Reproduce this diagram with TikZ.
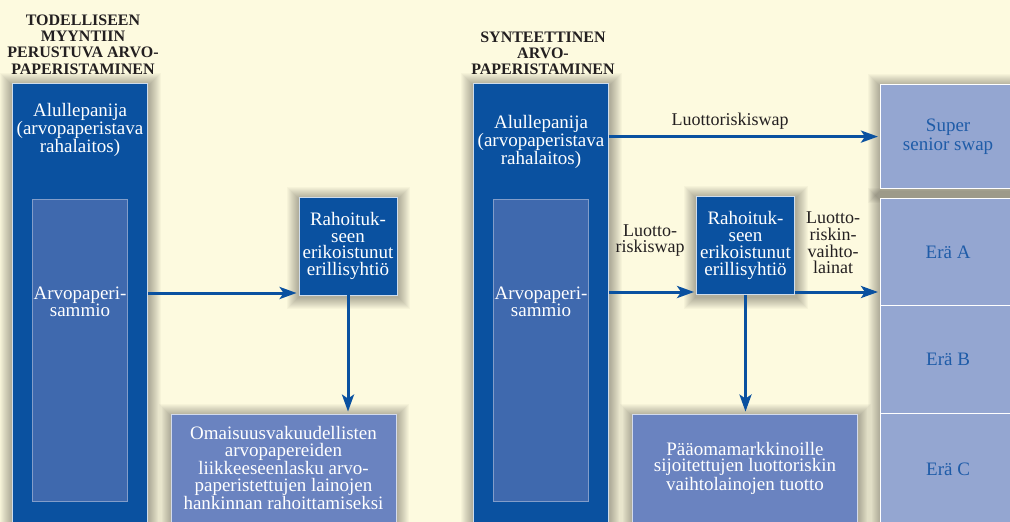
\documentclass[tikz,border=0pt]{standalone}
\usepackage{fontspec}
\setmainfont{Liberation Serif}
\usetikzlibrary{arrows.meta,positioning}

\definecolor{bgcream}{HTML}{FDFADF}
\definecolor{darkblue}{HTML}{0A51A0}
\definecolor{poolblue}{HTML}{3F69AE}
\definecolor{boxblue}{HTML}{6A83C0}
\definecolor{trancheblue}{HTML}{94A6D1}
\definecolor{tranchetext}{HTML}{1F5CA8}
\definecolor{titlegray}{HTML}{231F20}

\pgfdeclarelayer{bg}
\pgfsetlayers{bg,main}

\begin{document}
\begin{tikzpicture}[x=1pt,y=-1pt,
    txt/.style={font=\fontsize{19}{16.8}\selectfont, align=center, inner sep=0pt},
    column/.style={fill=darkblue, draw=white!80!darkblue, line width=0.8pt, anchor=north west, minimum width=135pt, minimum height=450pt, inner sep=0pt},
    pool/.style={fill=poolblue, draw=white!35!poolblue, line width=0.8pt, anchor=north west, minimum width=95pt, minimum height=302pt, inner sep=0pt},
    spv/.style={txt, fill=darkblue, draw=white!80!darkblue, line width=0.8pt, text=white, minimum width=98pt, minimum height=98pt},
    outbox/.style={txt, fill=boxblue, draw=white!70!boxblue, line width=0.8pt, text=white, minimum width=225pt, minimum height=108pt},
    tranche/.style={txt, fill=trancheblue, draw=white, line width=1.2pt, text=tranchetext, minimum width=135pt, anchor=north west},
    flow/.style={darkblue, line width=3pt, -{Stealth[length=17pt,width=12pt,inset=4pt]}, shorten >=2pt},
    flowlbl/.style={align=center, inner sep=0pt, text=titlegray, font=\fontsize{18}{16.7}\selectfont},
    heading/.style={align=center, inner sep=0pt, text=titlegray, font=\bfseries\fontsize{16}{16.3}\selectfont}]

    \useasboundingbox (0,0) rectangle (1010,522);

    % left: true sale
    \node[heading] (head1) at (83,44.5) {TODELLISEEN\\MYYNTIIN\\PERUSTUVA ARVO-\\PAPERISTAMINEN};
    \node[column] (col1) at (12,83) {};
    \node[pool] (pool1) at (32,199) {};
    \node[txt, text=white] (orig1) at (80,130) {Alullepanija\\(arvopaperistava\\rahalaitos)};
    \node[txt, text=white] (pooltxt1) at (80,301.5) {Arvopaperi-\\sammio};
    \node[spv] (spv1) at (348,246) {Rahoituk-\\seen\\erikoistunut\\erillisyhtiö};
    \node[outbox] (omai) at (283.5,468) {Omaisuusvakuudellisten\\arvopapereiden\\liikkeeseenlasku arvo-\\paperistettujen lainojen\\hankinnan rahoittamiseksi};

    \draw[flow] (col1.east |- 0,293) -- (spv1.west |- 0,293);
    \draw[flow] (spv1.south) -- (spv1.south |- omai.north);

    % right: synthetic
    \node[heading] (head2) at (543,53.3) {SYNTEETTINEN\\ARVO-\\PAPERISTAMINEN};
    \node[column] (col2) at (473,83) {};
    \node[pool] (pool2) at (493,199) {};
    \node[txt, text=white] (orig2) at (541,142) {Alullepanija\\(arvopaperistava\\rahalaitos)};
    \node[txt, text=white] (pooltxt2) at (541,301.5) {Arvopaperi-\\sammio};
    \node[spv] (spv2) at (745.5,245.5) {Rahoituk-\\seen\\erikoistunut\\erillisyhtiö};
    \node[outbox] (paa) at (745,468) {Pääomamarkkinoille\\sijoitettujen luottoriskin\\vaihtolainojen tuotto};

    \node[tranche, minimum height=104pt, font=\fontsize{19}{19}\selectfont] (sss) at (880,84) {Super\\senior swap};
    \node[tranche, minimum height=107pt] (eraA) at (880,198) {Erä A};
    \node[tranche, minimum height=108pt] (eraB) at (880,305) {Erä B};
    \node[tranche, minimum height=112pt] (eraC) at (880,413) {Erä C};

    \draw[flow] (col2.east |- sss.west) -- (sss.west);
    \draw[flow] (col2.east |- 0,292) -- (spv2.west |- 0,292);
    \draw[flow] (spv2.east |- 0,292) -- (eraA.west |- 0,292);
    \draw[flow] (spv2.south) -- (spv2.south |- paa.north);

    \node[flowlbl] (lbl1) at (730,121) {Luottoriskiswap};
    \node[flowlbl] (lbl2) at (650,240.5) {Luotto-\\riskiswap};
    \node[flowlbl] (lbl3) at (833,243) {Luotto-\\riskin-\\vaihto-\\lainat};

    % background and soft shadows
    \begin{pgfonlayer}{bg}
        \fill[bgcream] (0,0) rectangle (1010,522);
        \foreach \n in {col1,spv1,omai,col2,spv2,paa,sss}
            \foreach \r in {1,...,12}
                \fill[black, opacity=0.028] ([shift={(-\r,-\r+2)}]\n.north west) rectangle ([shift={(\r+1,\r+2)}]\n.south east);
        \foreach \r in {1,...,12}
            \fill[black, opacity=0.028] ([shift={(-\r,-\r+2)}]eraA.north west) rectangle ([shift={(\r+1,\r+2)}]eraC.south east);
    \end{pgfonlayer}

\end{tikzpicture}
\end{document}
